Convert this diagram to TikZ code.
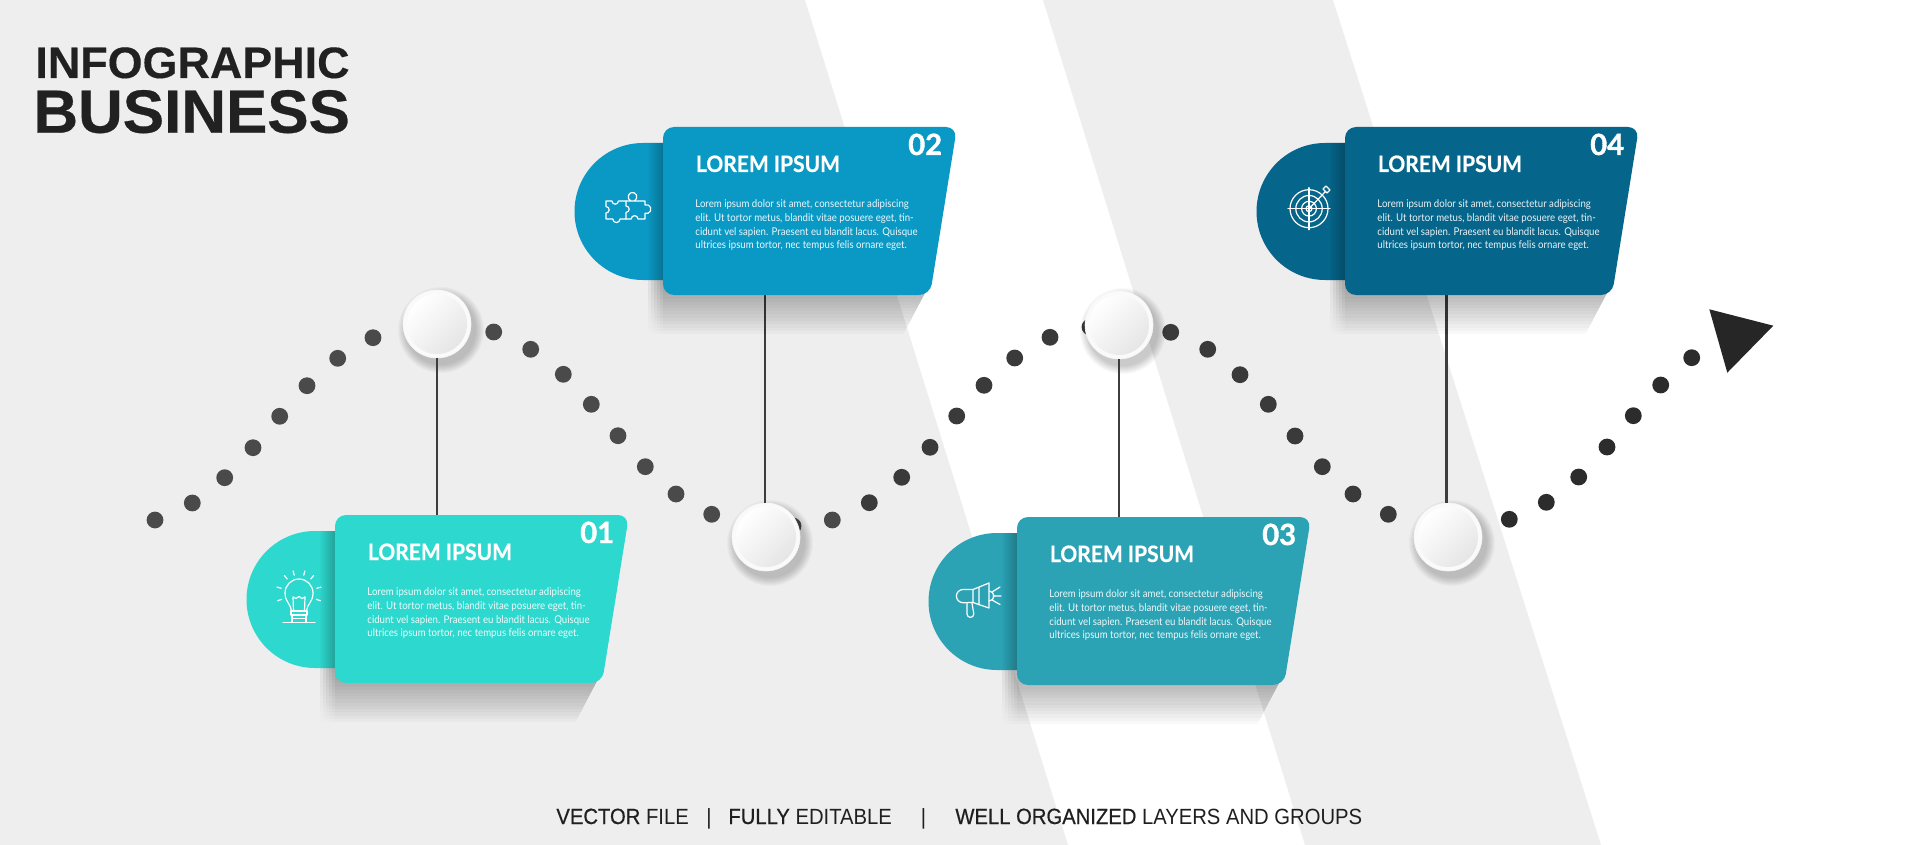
\documentclass[tikz,border=0pt]{standalone}
\usepackage{fontspec}
\setmainfont{Lato}
\newfontfamily\busf[FakeStretch=1.015,FakeBold=0.5]{Liberation Sans}
\newfontfamily\infof[FakeStretch=1.02,FakeBold=0.3]{Liberation Sans}
\newfontfamily\footf[FakeStretch=0.92]{Liberation Sans}
\newfontfamily\footbf[FakeStretch=0.92,FakeBold=0.6]{Liberation Sans}
\newfontfamily\titlef[FakeStretch=0.93,BoldFeatures={FakeStretch=0.93,FakeBold=0.5}]{Lato}
\newfontfamily\numf[BoldFeatures={FakeBold=1.2}]{Lato}
\newfontfamily\bodyf[FakeStretch=0.9]{Lato}
\usetikzlibrary{fadings,calc}
\definecolor{bggray}{HTML}{EEEEEE}
\definecolor{cardA}{HTML}{2DD8CE}
\definecolor{cardB}{HTML}{0A99C5}
\definecolor{cardC}{HTML}{2BA3B5}
\definecolor{cardD}{HTML}{05658A}
\definecolor{dotA}{HTML}{4A4A4A}
\definecolor{dotB}{HTML}{3A3A3A}
\definecolor{dotC}{HTML}{2C2C2C}
\tikzset{
  dotnode/.style={circle,fill=#1,inner sep=0pt,minimum size=8.4pt,draw=none},
  linkline/.style={draw=black!76,line width=1.35pt},
  knob/.style={circle,inner sep=0pt,minimum size=30pt,top color=white,bottom color=black!10,shading angle=45,draw=none},
  ring/.style={circle,inner sep=0pt,minimum size=34pt,fill=white!98!black,draw=black!4,line width=.3pt},
  icon/.style={draw=white,line width=.6pt,line cap=round,line join=round},
  cardtitle/.style={text=white,font=\titlef\fontsize{11.3pt}{14pt}\selectfont\bfseries,inner sep=0pt,anchor=base west},
  cardnum/.style={text=white,font=\numf\fontsize{14.6pt}{16pt}\selectfont\bfseries,inner sep=0pt,anchor=base east},
  cardbody/.style={text=white,text opacity=.92,font=\bodyf\fontsize{5.35pt}{6.95pt}\selectfont,inner sep=0pt,anchor=north west,align=left},
  foot/.style={inner sep=0pt,anchor=base west,text=black!88,font=\fontsize{11pt}{13pt}\selectfont},
}
\newcommand{\InfoCard}[5]{%
  % #1 name, #2 left, #3 top, #4 colour, #5 number
  \begin{scope}[shift={(#2,#3)}]
    \foreach \k in {-15,-12,-9,-6,-3,0}{
      \fill[black,opacity=.07,path fading=south] (\k,150) -- (250,150) -- (262,166) -- (240,208) -- (\k,208) -- cycle;
    }
    \fill[#4] (10,16) -- (-20,16) arc[start angle=90,end angle=270,radius=34.25pt] -- (10,153) -- cycle;
    \begin{scope}
      \clip (10,16) -- (-20,16) arc[start angle=90,end angle=270,radius=34.25pt] -- (10,153) -- cycle;
      \fill[black,opacity=.28,path fading=west] (-16,8) -- (2,8) -- (2,161) -- (-16,161) -- cycle;
    \end{scope}
    \fill[#4,rounded corners=5.5pt] (0,0) -- (294,0) -- (267,168) -- (0,168) -- cycle;
    \node[cardtitle] (title#1) at (32.5,45) {LOREM IPSUM};
    \node[cardnum] (num#1) at (279.5,28) {#5};
    \node[cardbody] (body#1) at (32,72) {Lorem ipsum dolor sit amet, consectetur adipiscing\\elit. Ut tortor metus, blandit vitae posuere eget, tin-\\cidunt vel sapien. Praesent eu blandit lacus. Quisque\\ultrices ipsum tortor, nec tempus felis ornare eget.};
  \end{scope}
}
\newcommand{\KnobAt}[3]{%
  % #1 name, #2 x, #3 y
  \foreach \i in {0,...,8}{
    \fill[black,opacity=.025] (#2+4,#3+6) circle[radius={17pt+4.5pt-\i*0.5pt}];
  }
  \node[ring] (ring#1) at (#2,#3) {};
  \node[knob] (#1) at (#2,#3) {};
}
\begin{document}
\begin{tikzpicture}[x=0.5pt,y=-0.5pt]
\useasboundingbox (0,0) rectangle (1920,845);
\fill[white] (0,0) rectangle (1920,845);
\fill[bggray] (0,0) -- (805,0) -- (1068,845) -- (0,845) -- cycle;
\fill[bggray] (1043,0) -- (1333,0) -- (1601,845) -- (1305,845) -- cycle;

% dotted path
\foreach \x/\y [count=\i] in {155/520,192.3/503,224.7/477.7,253/447.7,279.7/416.3,307/385.7,337.7/358.3,373/337.7,
  493.7/332,530.7/349.3,563.3/374.3,591.3/404.3,618/435.7,645.3/466.7,676/494,711.7/514.3,793/526,832.3/520}
  \node[dotnode=dotA] (da\i) at (\x,\y) {};
\foreach \x/\y [count=\i] in {869.3/502.7,901.7/477.3,930/447.3,956.7/416,984/385.3,1014.7/358,1050/337.3,1090/327,
  1170.7/332.3,1207.7/349.3,1240/374.7,1268.3/404.3,1295/436,1322.3/466.7,1353/494,1388.3/514.3}
  \node[dotnode=dotB] (db\i) at (\x,\y) {};
\foreach \x/\y [count=\i] in {1509.3/519.3,1546.3/502.3,1578.7/477,1607/447,1633.3/415.7,1660.7/385,1691.7/357.7}
  \node[dotnode=dotC] (dc\i) at (\x,\y) {};
\fill[black!85] (1709.3,309.3) -- (1773.3,325.7) -- (1727.3,372.7) -- cycle;

% knobs
\KnobAt{c1}{437}{324}
\KnobAt{c2}{766}{537}
\KnobAt{c3}{1119}{325}
\KnobAt{c4}{1448}{537}

% connectors
\coordinate (t1) at (437,516);
\coordinate (t2) at (765,294);
\coordinate (t3) at (1119,518);
\coordinate (t4) at (1446.5,294);
\draw[linkline] (ringc1) -- (t1);
\draw[linkline] (t2) -- (t2 |- ringc2.north);
\draw[linkline] (ringc3) -- (t3);
\draw[linkline] (t4) -- (t4 |- ringc4.north);

% cards
\InfoCard{A}{335}{515}{cardA}{01}
\InfoCard{B}{663}{127}{cardB}{02}
\InfoCard{C}{1017}{517}{cardC}{03}
\InfoCard{D}{1345}{127}{cardD}{04}

% bulb icon
\draw[icon] (291.5,611) .. controls (291,604) and (285,602) .. (285,593) arc[start angle=180,end angle=0,radius=7pt] .. controls (313,602) and (307,604) .. (306.5,611);
\draw[icon] (293.5,611) -- (293,597) -- (296,598.5) -- (299,596.5) -- (302,598.5) -- (305,597) -- (304.5,611);
\draw[icon] (291,611) -- (307,611) -- (307,615) -- (291,615) -- cycle;
\draw[icon] (292,615) -- (292,622.5) (306,615) -- (306,622.5) (292,618.5) -- (306,618.5);
\draw[icon] (283,622.7) -- (315,622.7);
\foreach \a in {-20,15,50,75,105,130,165,200}{
  \draw[icon] ($(299,593)+(\a:9.2pt)$) -- ($(299,593)+(\a:11.4pt)$);
}
% puzzle icon
\draw[icon] (606,201) -- (612,201) arc[start angle=180,end angle=360,radius=1.6pt] -- (626,201) -- (626,206) arc[start angle=90,end angle=-90,radius=1.6pt] -- (626,219) -- (620,219) arc[start angle=0,end angle=-180,radius=1.8pt] -- (606,219) -- (606,213) arc[start angle=-90,end angle=90,radius=1.6pt] -- cycle;
\draw[icon] (626,201) -- (631,201) arc[start angle=-110,end angle=290,radius=2.2pt] -- (645,201) -- (645,205) arc[start angle=110,end angle=-110,radius=2.2pt] -- (645,219) -- (638,219) arc[start angle=0,end angle=180,radius=1.7pt] -- (626,219);
% megaphone icon
\draw[icon] (973,589.5) -- (963,589.5) arc[start angle=90,end angle=270,radius=3.3pt] -- (973,602.5);
\draw[icon] (973,589.5) -- (989,583) -- (989,608) -- (973,602.5) -- cycle (979,587) -- (979,605);
\draw[icon] (989,591) arc[start angle=90,end angle=-90,radius=2.5pt];
\draw[icon] (967,603) -- (967,614) arc[start angle=180,end angle=360,radius=1.7pt] -- (972,603);
\draw[icon] (992,592) -- (1000,587) (993,596) -- (1001,596) (992,600) -- (1000,604.5);
% target icon
\foreach \r in {9.5pt,6.6pt,3.7pt,1.5pt}{
  \draw[icon] (1309,208.7) circle[radius=\r];
}
\draw[icon] (1288,208.7) -- (1330,208.7) (1309,187.7) -- (1309,229.7);
\draw[icon] (1309,208.7) -- (1325,192) (1323,189) -- (1326,186) -- (1330,190) -- (1327,193) -- cycle;

% heading
\node[inner sep=0pt,anchor=base west,text=black!87,font=\infof\fontsize{22pt}{24pt}\selectfont\bfseries] (head1) at (35,78) {INFOGRAPHIC};
\node[inner sep=0pt,anchor=base west,text=black!87,font=\busf\fontsize{30.5pt}{32pt}\selectfont\bfseries] (head2) at (33,132.7) {BUSINESS};

% footer
\node[foot] (f1) at (556,824) {{\footbf VECTOR} {\footf FILE}};
\node[foot] (f2) at (706,824) {\footf |};
\node[foot] (f3) at (728,824) {{\footbf FULLY} {\footf EDITABLE}};
\node[foot] (f4) at (920.5,824) {\footf |};
\node[foot] (f5) at (955,824) {{\footbf WELL ORGANIZED} {\footf LAYERS AND GROUPS}};
\end{tikzpicture}
\end{document}
